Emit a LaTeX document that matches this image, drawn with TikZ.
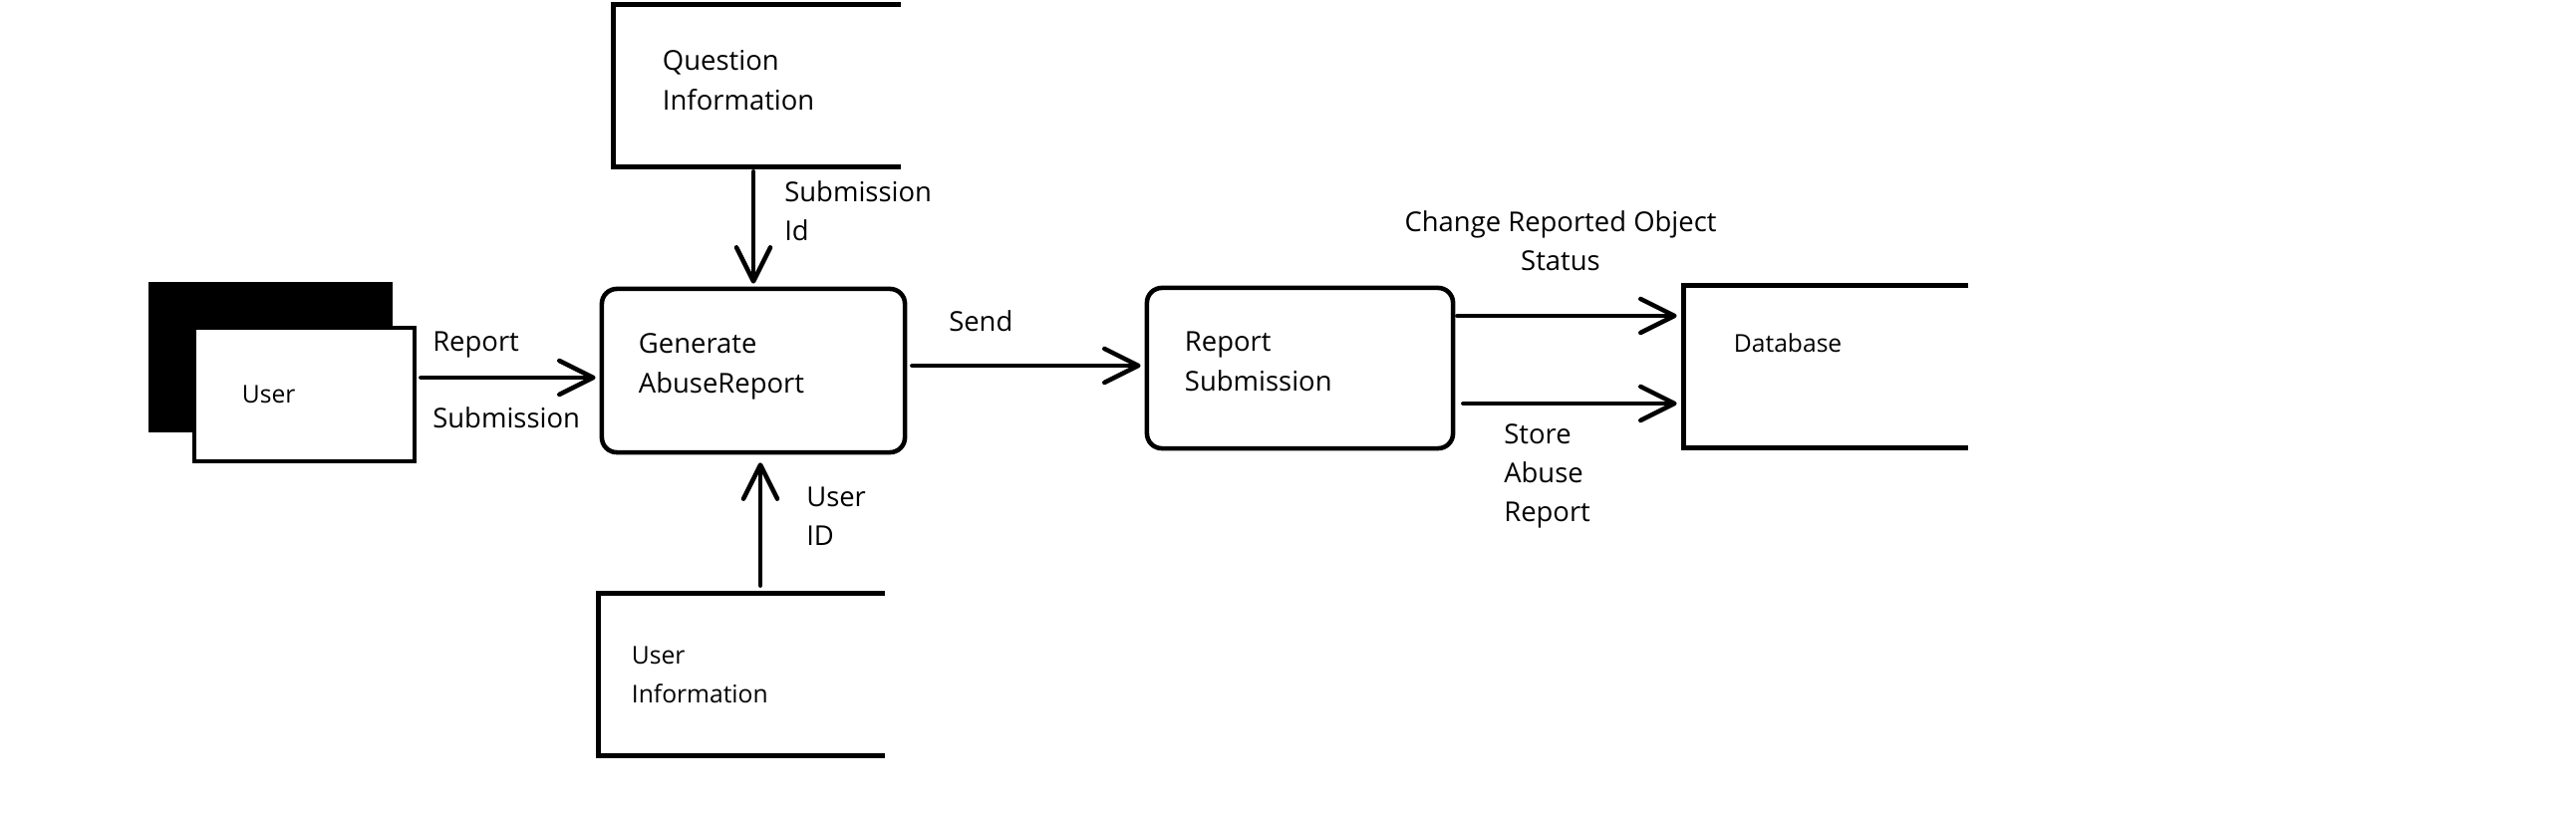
\documentclass[tikz,border=0pt]{standalone}
\usepackage{fontspec}
\setmainfont{Open Sans}
\usetikzlibrary{arrows.meta}

\begin{document}
\begin{tikzpicture}[
  x=0.01cm, y=-0.01cm,
  line width=1.3pt,
  txt/.style={font=\fontsize{7.8}{11.1}\selectfont},
  smalltxt/.style={font=\fontsize{7}{11.1}\selectfont},
  proc/.style={draw, rounded corners=0.15cm, align=left, inner ysep=0pt, txt},
  store/.style={align=left, inner ysep=0pt, txt},
  lbl/.style={txt, inner sep=0pt, align=left},
  flow/.style={-{Straight Barb[length=0.34cm, width=0.34cm, round]}, line cap=round}
]
\useasboundingbox (0,0) rectangle (2585,816);

% external entity with its shadow
\node[fill=black, inner sep=0pt, minimum width=2.45cm, minimum height=1.51cm] (ushadow) at (271.5,358.5) {};
\node[draw, fill=white, smalltxt, align=left, inner ysep=0pt, inner xsep=0.48cm,
  text width=1.25cm, minimum height=1.34cm] (user) at (305.5,396) {User};

% processes
\node[proc, inner xsep=0.37cm, text width=2.30cm, minimum height=1.64cm,
  text height=0.2cm, text depth=0.54cm] (gen) at (756,372) {Generate\\AbuseReport};
\node[proc, inner xsep=0.38cm, text width=2.31cm, minimum height=1.61cm,
  text height=0.2cm, text depth=0.53cm] (rsub) at (1304.5,369.5) {Report\\Submission};

% data stores (open on the right)
\node[store, inner xsep=0.47cm, text width=1.90cm, minimum height=1.58cm,
  text height=0.2cm, text depth=0.5cm] (qinfo) at (760,86) {Question\\Information};
\draw (qinfo.north east) -- (qinfo.north west) -- (qinfo.south west) -- (qinfo.south east);

\node[store, smalltxt, inner xsep=0.31cm, text width=2.21cm, minimum height=1.58cm] (uinfo) at (744.5,677) {User\\Information};
\draw (uinfo.north east) -- (uinfo.north west) -- (uinfo.south west) -- (uinfo.south east);

\node[store, smalltxt, inner xsep=0.48cm, text width=1.85cm, minimum height=1.58cm,
  text height=0.2cm, text depth=0.48cm] (db) at (1832.5,368) {Database};
\draw (db.north east) -- (db.north west) -- (db.south west) -- (db.south east);

% flows
\draw[flow, shorten <=0.04cm, shorten >=0.04cm] (user.east |- 0,379) -- (gen.west |- 0,379);
\draw[flow, shorten <=0.05cm, shorten >=0.03cm] (qinfo.south -| gen.north) -- (gen.north);
\draw[flow, shorten <=0.08cm, shorten >=0.08cm] (uinfo.north -| 763,0) -- (gen.south -| 763,0);
\draw[flow, shorten <=0.05cm, shorten >=0.04cm] (gen.east |- 0,367) -- (rsub.west |- 0,367);
\draw[flow, shorten <=0.02cm, shorten >=0.07cm] (rsub.east |- 0,317) -- (db.west |- 0,317);
\draw[flow, shorten <=0.08cm, shorten >=0.07cm] (rsub.east |- 0,405) -- (db.west |- 0,405);

% flow labels
\node[lbl, anchor=base west] (lreport) at (432,353) {Report};
\node[lbl, anchor=base west] (lsubmit) at (432,430) {Submission};
\node[lbl, anchor=base west] (lsend) at (950,333) {Send};
\node[lbl, anchor=west] (lsubid) at (785,212) {Submission\\Id};
\node[lbl, anchor=west] (luserid) at (807,518) {User\\ID};
\node[lbl, align=center] (lchange) at (1566,242) {Change Reported Object\\Status};
\node[lbl, anchor=west] (lstore) at (1507,478) {Store\\Abuse\\Report};
\end{tikzpicture}
\end{document}
